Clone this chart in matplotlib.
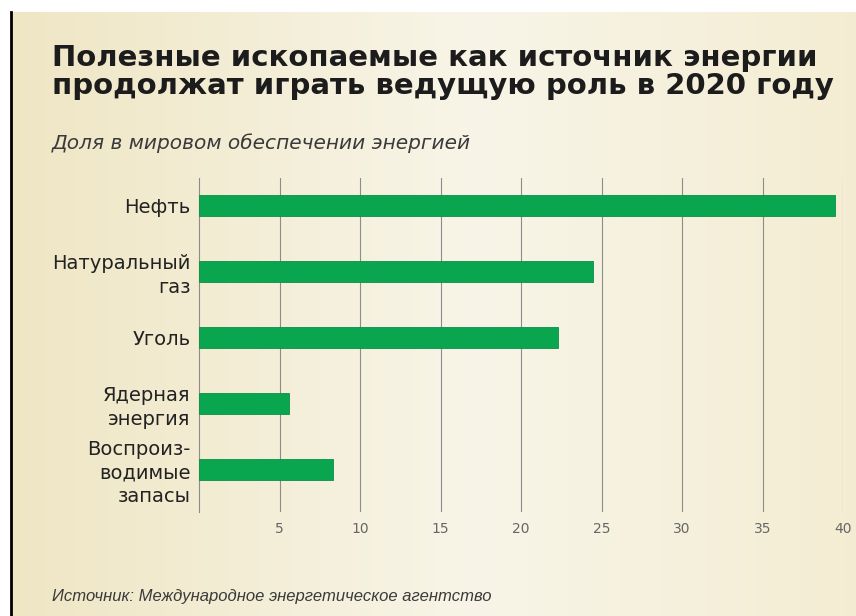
import numpy as np
import matplotlib
matplotlib.use("Agg")
import matplotlib.pyplot as plt

# data (share of world energy supply, %)
categories = ["Нефть", "Натуральный\nгаз", "Уголь", "Ядерная\nэнергия", "Воспроиз-\nводимые\nзапасы"]
shares = [39.5, 24.5, 22.3, 5.6, 8.3]
xticks = [5, 10, 15, 20, 25, 30, 35, 40]

title = "Полезные ископаемые как источник энергии\nпродолжат играть ведущую роль в 2020 году"
subtitle = "Доля в мировом обеспечении энергией"
source = "Источник: Международное энергетическое агентство"

plt.rcParams['font.family'] = ['DejaVu Sans']

W, H = 856, 616
fig = plt.figure(figsize=(W / 100, H / 100), dpi=100)
fig.patch.set_facecolor("white")

# beige background panel with a soft horizontal gradient
bg = fig.add_axes([11 / W, 0, 1 - 11 / W, 1 - 12 / H])
grad = np.linspace(0, 1, 256)
c_left = np.array([239, 230, 196]) / 255
c_mid = np.array([248, 245, 232]) / 255
c_right = np.array([243, 235, 206]) / 255
w = np.abs(grad - 0.55) / 0.55
col = np.where(grad[:, None] < 0.55,
               c_mid * (1 - w[:, None]) + c_left * w[:, None],
               c_mid * (1 - w[:, None]) + c_right * w[:, None])
bg.imshow(col[None, :, :], aspect="auto", extent=[0, 1, 0, 1])
bg.set_axis_off()

# left black border
fig.add_artist(plt.Line2D([10.5 / W, 10.5 / W], [0, 1 - 12 / H], color="black", lw=2))

fig.text(52 / W, 1 - 44 / H, title, fontsize=21, fontweight="bold", color="#1c1c1c",
         va="top", ha="left", linespacing=1.0)
fig.text(52 / W, 1 - 143 / H, subtitle, fontsize=14.5, style="italic", color="#3a3a3a",
         va="center", ha="left")
fig.text(52 / W, 1 - 597 / H, source, fontsize=12, style="italic", color="#3a3a3a",
         va="center", ha="left", family="Liberation Sans")

ax = fig.add_axes([199 / W, 1 - 512 / H, (843 - 199) / W, (512 - 178) / H])
ax.patch.set_alpha(0)
y = np.arange(len(categories))
ax.barh(y, shares, height=0.32, color="#0aa64f", edgecolor="#0b8f45", lw=0.6, zorder=3)
ax.set_xlim(0, 40)
ax.set_ylim(4.65, -0.41)
ax.set_yticks(y)
ax.set_yticklabels(categories, fontsize=14, color="#222222", linespacing=1.3)
ax.set_xticks(xticks)
ax.set_xticklabels([str(t) for t in xticks], fontsize=10, color="#666666")
ax.tick_params(axis="x", length=0, pad=7)
ax.tick_params(axis="y", length=0, pad=6)
ax.grid(axis="x", color="#8c8c8c", lw=0.8, zorder=1)
for s in ["top", "right", "bottom"]:
    ax.spines[s].set_visible(False)
ax.spines["left"].set_color("#8c8c8c")
ax.spines["left"].set_linewidth(0.8)

fig.savefig("out.png", dpi=100)
